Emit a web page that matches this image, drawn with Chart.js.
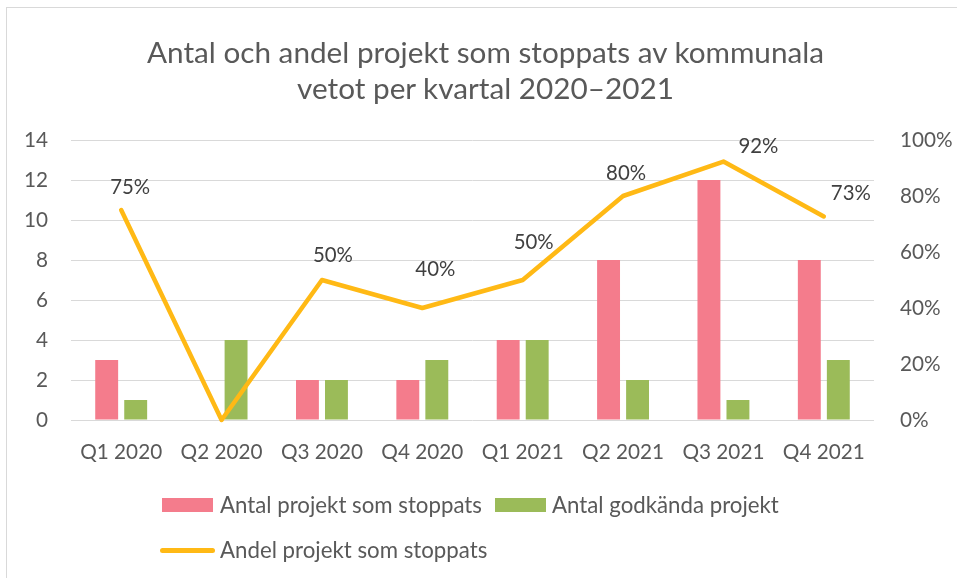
<!DOCTYPE html>
<html><head><meta charset="utf-8">
<script src="https://cdn.jsdelivr.net/npm/chart.js@4.4.0/dist/chart.umd.min.js"></script>
<style>
html,body{margin:0;padding:0;background:#fff;}
#wrap{position:relative;width:957px;height:578px;overflow:hidden;background:#fff;}
#frame{position:absolute;left:6px;top:7px;width:980px;height:600px;border-left:1px solid #D9D9D9;border-top:1px solid #D9D9D9;box-sizing:border-box;}
#c{position:absolute;left:0;top:0;}
.t{position:absolute;left:7px;width:957px;text-align:center;color:#595959;white-space:nowrap;}
.lt{position:absolute;color:#595959;white-space:nowrap;}
.sw{position:absolute;}
</style>
</head><body>
<div id="wrap">
  <div id="frame"></div>
  <canvas id="c" width="957" height="578"></canvas>
  <div id="t1" class="t"></div>
  <div id="t2" class="t"></div>
  <div id="legend"></div>
</div>
<script>
const titleLines = ["Antal och andel projekt som stoppats av kommunala", "vetot per kvartal 2020\u20132021"];
const categories = ["Q1 2020","Q2 2020","Q3 2020","Q4 2020","Q1 2021","Q2 2021","Q3 2021","Q4 2021"];
const stoppedLabel = "Antal projekt som stoppats";
const approvedLabel = "Antal godk\u00e4nda projekt";
const shareLabel = "Andel projekt som stoppats";
const stopped = [3, 0, 2, 2, 4, 8, 12, 8];
const approved = [1, 4, 2, 3, 4, 2, 1, 3];
const share = [0.75, 0, 0.50, 0.40, 0.50, 0.80, 0.923, 0.727];
const leftTicks = [0, 2, 4, 6, 8, 10, 12, 14];
const rightTicks = [0, 0.2, 0.4, 0.6, 0.8, 1.0];

// styles (not data)
const FONT = "Lato";
const COL_PINK = "#F47C8C", COL_GREEN = "#9BBB59", COL_LINE = "#FFB915";
const labelOffsets = [[9,-23], null, [11,-25], [13,-39], [11,-38], [3,-23], [35,-15], [27,-23]];

const mctx = document.createElement('canvas').getContext('2d');
function fit(text, target, weight) {
  mctx.font = (weight||'normal') + ' 100px ' + FONT;
  return 100 * target / mctx.measureText(text).width;
}
const titleSize = fit(titleLines[0], 678);
const tickSize = fit("Q1 2020", 82);
const legSize = fit(stoppedLabel, 262);
const dlSize = fit("75%", 40);

// title
function placeTitle(id, text, cy) {
  const el = document.getElementById(id);
  el.textContent = text;
  el.style.fontFamily = FONT;
  el.style.fontSize = titleSize + 'px';
  el.style.lineHeight = '40px';
  el.style.top = (cy - 20) + 'px';
}
placeTitle('t1', titleLines[0], 52);
placeTitle('t2', titleLines[1], 88);

// legend
const leg = document.getElementById('legend');
function addSwatch(x, y, w, h, color, radius) {
  const d = document.createElement('div');
  d.className = 'sw';
  d.style.left = x + 'px'; d.style.top = y + 'px';
  d.style.width = w + 'px'; d.style.height = h + 'px';
  d.style.background = color;
  if (radius) d.style.borderRadius = radius + 'px';
  leg.appendChild(d);
}
function addText(x, cy, text) {
  const d = document.createElement('div');
  d.className = 'lt';
  d.textContent = text;
  d.style.fontFamily = FONT;
  d.style.fontSize = legSize + 'px';
  d.style.lineHeight = '30px';
  d.style.left = x + 'px'; d.style.top = (cy - 15) + 'px';
  leg.appendChild(d);
}
addSwatch(162, 498, 51, 14, COL_PINK);
addText(220, 505, stoppedLabel);
addSwatch(495, 498, 51, 14, COL_GREEN);
addText(552, 505, approvedLabel);
addSwatch(160, 548, 55, 4.5, COL_LINE, 3);
addText(220, 550, shareLabel);

const dataLabelPlugin = {
  id: 'dl',
  afterDatasetsDraw(chart) {
    const meta = chart.getDatasetMeta(0);
    const ctx = chart.ctx;
    ctx.save();
    ctx.font = dlSize + 'px ' + FONT;
    ctx.fillStyle = '#404040';
    ctx.textAlign = 'center';
    ctx.textBaseline = 'middle';
    meta.data.forEach((pt, i) => {
      const off = labelOffsets[i];
      if (!off) return;
      ctx.fillText(Math.round(share[i] * 100) + '%', pt.x + off[0], pt.y + off[1]);
    });
    ctx.restore();
  }
};

new Chart(document.getElementById('c'), {
  data: {
    labels: categories,
    datasets: [
      { type: 'line', label: shareLabel, data: share, yAxisID: 'y1', order: 0,
        borderColor: COL_LINE, backgroundColor: COL_LINE, borderWidth: 4.5,
        pointRadius: 0, tension: 0, borderCapStyle: 'round', borderJoinStyle: 'round', clip: false },
      { type: 'bar', label: stoppedLabel, data: stopped, yAxisID: 'y', order: 1,
        backgroundColor: COL_PINK, categoryPercentage: 0.578, barPercentage: 0.79 },
      { type: 'bar', label: approvedLabel, data: approved, yAxisID: 'y', order: 2,
        backgroundColor: COL_GREEN, categoryPercentage: 0.578, barPercentage: 0.79 }
    ]
  },
  options: {
    responsive: false, animation: false, devicePixelRatio: 1,
    layout: { padding: { top: 140, left: 0, right: 0, bottom: 0 } },
    plugins: { legend: { display: false }, title: { display: false }, tooltip: { enabled: false } },
    scales: {
      x: {
        grid: { display: false, drawTicks: false }, border: { display: false },
        ticks: { color: '#595959', font: { family: FONT, size: tickSize }, padding: 20, maxRotation: 0 },
        afterFit(s) { s.height = 158; }
      },
      y: {
        position: 'left', min: 0, max: 14,
        afterBuildTicks(s) { s.ticks = leftTicks.map(v => ({ value: v })); },
        grid: { color: '#D9D9D9', lineWidth: 1, drawTicks: false }, border: { display: false },
        ticks: { color: '#595959', font: { family: FONT, size: tickSize }, padding: 23 },
        afterFit(s) { s.width = 71; }
      },
      y1: {
        position: 'right', min: 0, max: 1,
        afterBuildTicks(s) { s.ticks = rightTicks.map(v => ({ value: v })); },
        grid: { display: false, drawTicks: false }, border: { display: false },
        ticks: { color: '#595959', font: { family: FONT, size: tickSize }, padding: 26,
          callback: v => Math.round(v * 100) + '%' },
        afterFit(s) { s.width = 83; }
      }
    }
  },
  plugins: [dataLabelPlugin]
});
</script>
</body></html>
